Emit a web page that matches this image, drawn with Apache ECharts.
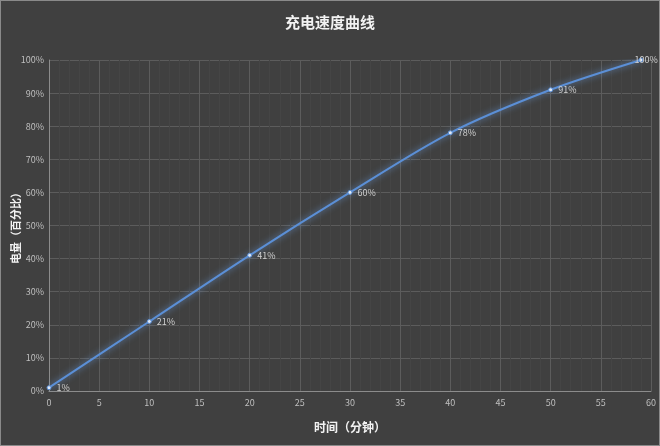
<!DOCTYPE html>
<html lang="zh">
<head>
    <meta charset="UTF-8">
    <title>充电速度曲线</title>
    <script src="https://cdn.jsdelivr.net/npm/echarts@6/dist/echarts.min.js"></script>
    <style>
        html, body { margin: 0; padding: 0; background: #404040; }
        #main { width: 660px; height: 446px; box-sizing: border-box; border: 1px solid #8a8a8a; }
    </style>
</head>
<body>
<div id="main"></div>
<script type="text/javascript">
    // 数据
    var minutes = [0, 10, 20, 30, 40, 50, 59];
    var battery = [1, 21, 41, 60, 78, 91, 100];
    var xTicks = [0, 5, 10, 15, 20, 25, 30, 35, 40, 45, 50, 55, 60];
    var yTicks = [0, 10, 20, 30, 40, 50, 60, 70, 80, 90, 100];

    var font = '"Noto Sans CJK SC", "Noto Sans", sans-serif';
    var points = minutes.map(function (m, i) {
        var p = { value: [m, battery[i]] };
        if (i === minutes.length - 1) {
            p.label = { offset: [-14, 0] };
        }
        return p;
    });

    var myChart = echarts.init(document.getElementById('main'));
    var option = {
        backgroundColor: '#404040',
        textStyle: { fontFamily: font },
        title: {
            text: '充电速度曲线',
            left: 'center',
            top: 9,
            textStyle: { color: '#f2f2f2', fontSize: 15, fontWeight: 'bold', fontFamily: font }
        },
        grid: { left: 48, right: 8, top: 59, bottom: 54, outerBoundsMode: 'none', containLabel: false },
        xAxis: {
            type: 'value',
            min: xTicks[0],
            max: xTicks[xTicks.length - 1],
            interval: 5,
            name: '时间（分钟）',
            nameLocation: 'middle',
            nameGap: 30,
            nameMoveOverlap: false,
            nameTextStyle: { color: '#f2f2f2', fontSize: 12, fontWeight: 'bold' },
            axisLine: { lineStyle: { color: '#8c8c8c' } },
            axisTick: { show: false },
            axisLabel: { color: '#bfbfbf', fontSize: 9, margin: 7 },
            splitLine: { show: true, lineStyle: { color: '#5c5c5c' } },
            minorTick: { show: false, splitNumber: 5 },
            minorSplitLine: { show: true, lineStyle: { color: '#454545' } }
        },
        yAxis: {
            type: 'value',
            min: yTicks[0],
            max: yTicks[yTicks.length - 1],
            interval: 10,
            name: '电量（百分比）',
            nameLocation: 'middle',
            nameGap: 28,
            nameMoveOverlap: false,
            nameTextStyle: { color: '#f2f2f2', fontSize: 11, fontWeight: 'bold' },
            axisLine: { show: true, lineStyle: { color: '#8c8c8c' } },
            axisTick: { show: false },
            axisLabel: { color: '#bfbfbf', fontSize: 9, margin: 5, formatter: '{value}%' },
            splitLine: { show: true, lineStyle: { color: '#5c5c5c' } }
        },
        series: [
            {
                name: '电量',
                type: 'line',
                smooth: 0.3,
                data: points,
                symbol: 'circle',
                symbolSize: 4,
                itemStyle: { color: '#dfe9f7', borderColor: '#5b8fd6', borderWidth: 1 },
                lineStyle: {
                    color: '#5b8fd6',
                    width: 2,
                    shadowColor: 'rgba(110,160,230,0.8)',
                    shadowBlur: 6
                },
                label: {
                    show: true,
                    position: 'right',
                    distance: 5,
                    color: '#d0d0d0',
                    fontSize: 9,
                    formatter: function (p) { return p.value[1] + '%'; }
                }
            }
        ]
    };
    myChart.setOption(option);
</script>
</body>
</html>
